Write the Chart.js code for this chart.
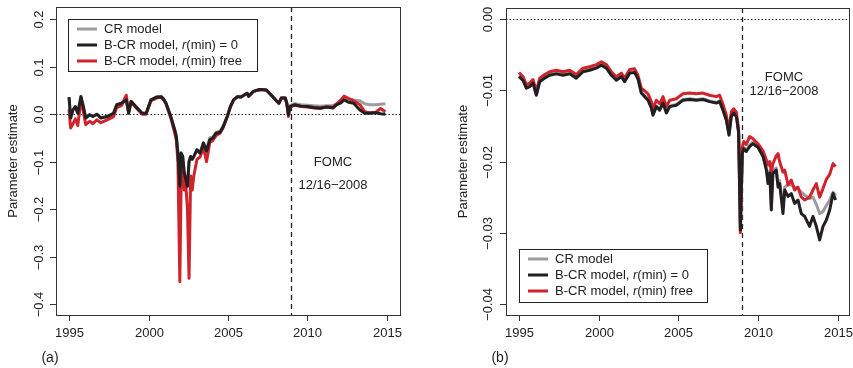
<!DOCTYPE html>
<html>
<head>
<meta charset="utf-8">
<script src="https://cdn.jsdelivr.net/npm/chart.js@4.4.0/dist/chart.umd.min.js"></script>
<style>
html, body { margin: 0; padding: 0; background: #fff; }
.panel { position: absolute; top: 0; height: 368px; }
</style>
</head>
<body>
<div class="panel" style="left:0;width:426px"><canvas id="chartA"></canvas></div>
<div class="panel" style="left:426px;width:427px"><canvas id="chartB"></canvas></div>
<script>
// shared
var seriesNames = ['CR model', 'B-CR model, *r*(min) = 0', 'B-CR model, *r*(min) free'];
var xTicks = [1995, 2000, 2005, 2010, 2015];
var fomcDate = 2008.96;
var fomcText = ['FOMC', '12/16\u22122008'];

// panel (a)
var yearsA = [1995.00, 1995.10, 1995.25, 1995.40, 1995.55, 1995.75, 1995.90, 1996.05, 1996.30, 1996.50,
    1996.75, 1997.00, 1997.40, 1997.80, 1998.00, 1998.30, 1998.60, 1998.75, 1998.90, 1999.20,
    1999.60, 1999.85, 2000.15, 2000.50, 2000.80, 2000.95, 2001.10, 2001.40, 2001.65, 2001.75,
    2001.85, 2001.97, 2002.05, 2002.15, 2002.25, 2002.35, 2002.45, 2002.55, 2002.65, 2002.75,
    2002.85, 2003.05, 2003.25, 2003.45, 2003.65, 2003.85, 2004.05, 2004.25, 2004.50, 2004.70,
    2004.95, 2005.15, 2005.35, 2005.60, 2005.80, 2006.00, 2006.20, 2006.30, 2006.60, 2007.00,
    2007.40, 2007.70, 2008.00, 2008.20, 2008.35, 2008.60, 2008.70, 2008.80, 2008.90, 2009.20,
    2009.60, 2010.00, 2010.40, 2010.80, 2011.20, 2011.60, 2011.85, 2012.10, 2012.30, 2012.60,
    2012.90, 2013.30, 2013.60, 2013.90, 2014.30, 2014.60, 2014.90];
var crA = [0.036, -0.008, 0.009, 0.016, 0.002, 0.037, 0.016, -0.008, -0.001, -0.005,
    0.000, -0.008, -0.005, 0.002, 0.020, 0.023, 0.030, 0.002, 0.027, 0.016,
    0.002, 0.002, 0.030, 0.036, 0.037, 0.032, 0.023, -0.005, -0.033, -0.047,
    -0.082, -0.150, -0.082, -0.089, -0.124, -0.138, -0.150, -0.100, -0.089, -0.095,
    -0.089, -0.075, -0.080, -0.060, -0.075, -0.050, -0.048, -0.038, -0.036, -0.025,
    -0.005, 0.016, 0.030, 0.037, 0.036, 0.040, 0.044, 0.038, 0.048, 0.052,
    0.051, 0.041, 0.030, 0.023, 0.034, 0.034, 0.023, 0.000, 0.018, 0.022,
    0.020, 0.019, 0.018, 0.017, 0.018, 0.018, 0.022, 0.028, 0.033, 0.032,
    0.030, 0.028, 0.022, 0.020, 0.020, 0.021, 0.022];
var bcrZeroA = [0.036, -0.008, 0.009, 0.016, 0.002, 0.037, 0.016, -0.008, -0.001, -0.005,
    0.000, -0.008, -0.005, 0.002, 0.020, 0.023, 0.030, 0.002, 0.027, 0.016,
    0.002, 0.002, 0.030, 0.036, 0.037, 0.032, 0.023, -0.005, -0.033, -0.047,
    -0.082, -0.152, -0.082, -0.089, -0.124, -0.138, -0.152, -0.100, -0.089, -0.095,
    -0.089, -0.075, -0.082, -0.061, -0.078, -0.054, -0.050, -0.040, -0.038, -0.026,
    -0.005, 0.016, 0.030, 0.037, 0.036, 0.040, 0.044, 0.038, 0.048, 0.052,
    0.051, 0.041, 0.030, 0.023, 0.034, 0.034, 0.023, -0.001, 0.016, 0.020,
    0.017, 0.016, 0.014, 0.013, 0.015, 0.013, 0.020, 0.024, 0.030, 0.025,
    0.023, 0.009, 0.002, 0.002, 0.003, 0.001, 0.000];
var bcrFreeA = [0.010, -0.029, -0.020, -0.010, -0.024, 0.030, 0.005, -0.022, -0.015, -0.020,
    -0.012, -0.018, -0.012, -0.005, 0.014, 0.018, 0.040, 0.005, 0.025, 0.014,
    0.000, 0.000, 0.028, 0.034, 0.036, 0.030, 0.022, -0.008, -0.040, -0.055,
    -0.100, -0.353, -0.150, -0.110, -0.160, -0.150, -0.200, -0.346, -0.130, -0.160,
    -0.130, -0.095, -0.090, -0.070, -0.100, -0.060, -0.055, -0.045, -0.040, -0.028,
    -0.006, 0.015, 0.030, 0.037, 0.036, 0.040, 0.044, 0.038, 0.048, 0.052,
    0.051, 0.041, 0.030, 0.023, 0.034, 0.034, 0.022, -0.005, 0.015, 0.019,
    0.016, 0.015, 0.013, 0.012, 0.015, 0.015, 0.022, 0.030, 0.038, 0.033,
    0.028, 0.020, 0.005, 0.003, 0.004, 0.012, 0.005];
var yTicksA = [-0.4, -0.3, -0.2, -0.1, 0.0, 0.1, 0.2];
var yLabelsA = ['\u22120.4', '\u22120.3', '\u22120.2', '\u22120.1', '0.0', '0.1', '0.2'];

// panel (b)
var yearsB = [1995.00, 1995.25, 1995.46, 1995.67, 1995.88, 1996.09, 1996.30, 1996.61, 1996.92, 1997.34,
    1997.76, 1998.18, 1998.59, 1999.01, 1999.43, 1999.85, 2000.16, 2000.48, 2000.79, 2001.10,
    2001.42, 2001.62, 2001.94, 2002.25, 2002.46, 2002.67, 2002.88, 2003.09, 2003.30, 2003.40,
    2003.61, 2003.82, 2004.03, 2004.24, 2004.45, 2004.86, 2005.28, 2005.70, 2006.12, 2006.54,
    2006.95, 2007.37, 2007.58, 2007.79, 2008.00, 2008.17, 2008.31, 2008.46, 2008.63, 2008.77,
    2008.88, 2009.00, 2009.09, 2009.25, 2009.46, 2009.67, 2009.98, 2010.30, 2010.51, 2010.61,
    2010.72, 2010.82, 2010.92, 2011.13, 2011.24, 2011.34, 2011.55, 2011.66, 2011.87, 2012.07,
    2012.28, 2012.49, 2012.70, 2012.91, 2013.22, 2013.43, 2013.64, 2013.85, 2014.06, 2014.27,
    2014.48, 2014.69, 2014.85];
var crB = [-0.0080, -0.0085, -0.0096, -0.0094, -0.0089, -0.0106, -0.0087, -0.0082, -0.0078, -0.0076,
    -0.0078, -0.0076, -0.0082, -0.0073, -0.0071, -0.0068, -0.0064, -0.0068, -0.0078, -0.0085,
    -0.0080, -0.0087, -0.0075, -0.0074, -0.0083, -0.0103, -0.0108, -0.0113, -0.0124, -0.0134,
    -0.0122, -0.0127, -0.0117, -0.0131, -0.0122, -0.0120, -0.0113, -0.0112, -0.0113, -0.0112,
    -0.0115, -0.0117, -0.0115, -0.0127, -0.0141, -0.0162, -0.0136, -0.0131, -0.0136, -0.0159,
    -0.0296, -0.0187, -0.0180, -0.0184, -0.0177, -0.0173, -0.0178, -0.0191, -0.0209, -0.0226,
    -0.0213, -0.0262, -0.0214, -0.0209, -0.0232, -0.0227, -0.0265, -0.0236, -0.0232, -0.0233,
    -0.0236, -0.0238, -0.0243, -0.0247, -0.0252, -0.0250, -0.0260, -0.0273, -0.0270, -0.0262,
    -0.0254, -0.0243, -0.0248];
var bcrZeroB = [-0.0081, -0.0086, -0.0097, -0.0095, -0.0090, -0.0107, -0.0088, -0.0083, -0.0079, -0.0077,
    -0.0079, -0.0077, -0.0083, -0.0074, -0.0072, -0.0069, -0.0065, -0.0069, -0.0079, -0.0086,
    -0.0081, -0.0088, -0.0076, -0.0075, -0.0084, -0.0104, -0.0109, -0.0114, -0.0125, -0.0135,
    -0.0123, -0.0128, -0.0118, -0.0132, -0.0123, -0.0121, -0.0114, -0.0113, -0.0114, -0.0113,
    -0.0116, -0.0118, -0.0116, -0.0128, -0.0142, -0.0163, -0.0137, -0.0132, -0.0137, -0.0160,
    -0.0296, -0.0189, -0.0182, -0.0186, -0.0179, -0.0175, -0.0180, -0.0193, -0.0212, -0.0231,
    -0.0216, -0.0268, -0.0217, -0.0212, -0.0236, -0.0231, -0.0273, -0.0240, -0.0249, -0.0245,
    -0.0259, -0.0254, -0.0273, -0.0277, -0.0291, -0.0277, -0.0291, -0.0310, -0.0291, -0.0282,
    -0.0268, -0.0245, -0.0254];
var bcrFreeB = [-0.0075, -0.0081, -0.0092, -0.0090, -0.0085, -0.0101, -0.0083, -0.0078, -0.0074, -0.0072,
    -0.0074, -0.0072, -0.0078, -0.0069, -0.0067, -0.0064, -0.0060, -0.0064, -0.0074, -0.0081,
    -0.0076, -0.0083, -0.0071, -0.0070, -0.0079, -0.0097, -0.0101, -0.0105, -0.0116, -0.0126,
    -0.0114, -0.0119, -0.0109, -0.0123, -0.0114, -0.0112, -0.0105, -0.0104, -0.0105, -0.0104,
    -0.0107, -0.0109, -0.0107, -0.0120, -0.0135, -0.0157, -0.0130, -0.0126, -0.0131, -0.0155,
    -0.0300, -0.0180, -0.0172, -0.0176, -0.0165, -0.0168, -0.0175, -0.0185, -0.0198, -0.0205,
    -0.0200, -0.0215, -0.0203, -0.0192, -0.0189, -0.0200, -0.0215, -0.0212, -0.0233, -0.0226,
    -0.0240, -0.0236, -0.0250, -0.0254, -0.0250, -0.0240, -0.0231, -0.0250, -0.0238, -0.0225,
    -0.0218, -0.0203, -0.0207];
var yTicksB = [-0.04, -0.03, -0.02, -0.01, 0.00];
var yLabelsB = ['\u22120.04', '\u22120.03', '\u22120.02', '\u22120.01', '0.00'];

var colors = ['#9d9d9f', '#231f20', '#d1232b'];
var FONT = '"Liberation Sans", Arial, sans-serif';

function toPoints(xs, ys) {
    return xs.map(function(x, i) { return {x: x, y: ys[i]}; });
}

// draws label with *italic* parts
function richText(ctx, str, x, y) {
    var parts = str.split('*');
    parts.forEach(function(p, i) {
        ctx.font = (i % 2 ? 'italic ' : '') + '13px ' + FONT;
        ctx.fillText(p, x, y);
        x += ctx.measureText(p).width;
    });
}

function decor(opt) {
    return {
        id: 'decor',
        beforeDatasetsDraw: function(chart) {
            var ctx = chart.ctx, a = chart.chartArea, xs = chart.scales.x, ys = chart.scales.y;
            ctx.save();
            ctx.strokeStyle = '#222';
            ctx.lineWidth = 1;
            ctx.setLineDash([1.5, 2]);
            var y0 = Math.round(ys.getPixelForValue(0)) + 0.5;
            ctx.beginPath(); ctx.moveTo(a.left, y0); ctx.lineTo(a.right, y0); ctx.stroke();
            ctx.setLineDash([5, 4]);
            ctx.lineWidth = 1.3;
            var xf = Math.round(xs.getPixelForValue(fomcDate)) + 0.5;
            ctx.beginPath(); ctx.moveTo(xf, a.top); ctx.lineTo(xf, a.bottom); ctx.stroke();
            ctx.restore();
        },
        afterDraw: function(chart) {
            var ctx = chart.ctx, a = chart.chartArea, xs = chart.scales.x, ys = chart.scales.y;
            ctx.save();
            ctx.strokeStyle = '#333';
            ctx.lineWidth = 1;
            ctx.strokeRect(Math.round(a.left) + 0.5, Math.round(a.top) + 0.5,
                Math.round(a.right - a.left), Math.round(a.bottom - a.top));
            ctx.fillStyle = '#222';
            ctx.font = '13px ' + FONT;
            // x axis
            ctx.textAlign = 'center';
            ctx.textBaseline = 'middle';
            ctx.beginPath();
            xTicks.forEach(function(t) {
                var px = Math.round(xs.getPixelForValue(t)) + 0.5;
                ctx.moveTo(px, a.bottom); ctx.lineTo(px, a.bottom + 6);
                ctx.fillText(String(t), px, 333);
            });
            // y axis
            opt.yTicks.forEach(function(t, i) {
                var py = Math.round(ys.getPixelForValue(t)) + 0.5;
                ctx.moveTo(a.left, py); ctx.lineTo(a.left - 6, py);
                ctx.save();
                ctx.translate(opt.yLabelX, py);
                ctx.rotate(-Math.PI / 2);
                ctx.fillText(opt.yLabels[i], 0, 0);
                ctx.restore();
            });
            ctx.stroke();
            ctx.save();
            ctx.translate(opt.titleX, (a.top + a.bottom) / 2);
            ctx.rotate(-Math.PI / 2);
            ctx.fillText('Parameter estimate', 0, 0);
            ctx.restore();
            // panel label
            ctx.font = '14px ' + FONT;
            ctx.fillText(opt.panel, opt.panelX, 358);
            // FOMC note
            ctx.font = '13px ' + FONT;
            ctx.fillText(fomcText[0], opt.fomcX, opt.fomcY[0]);
            ctx.fillText(fomcText[1], opt.fomcX, opt.fomcY[1]);
            // legend
            var L = opt.legend;
            ctx.fillStyle = '#fff';
            ctx.fillRect(L.x, L.y, L.w, L.h);
            ctx.strokeStyle = '#222';
            ctx.strokeRect(L.x + 0.5, L.y + 0.5, L.w, L.h);
            ctx.textAlign = 'left';
            [10, 26, 42].forEach(function(dy, i) {
                ctx.strokeStyle = colors[i];
                ctx.lineWidth = 3;
                ctx.beginPath();
                ctx.moveTo(L.x + 9, L.y + dy); ctx.lineTo(L.x + 29, L.y + dy);
                ctx.stroke();
                ctx.fillStyle = '#222';
                richText(ctx, seriesNames[i], L.x + 36, L.y + dy);
            });
            ctx.restore();
        }
    };
}

function makeChart(id, years, cr, b0, bf, opt) {
    var ds = [
        {data: toPoints(years, b0), borderColor: colors[1]},
        {data: toPoints(years, bf), borderColor: colors[2]},
        {data: toPoints(years, cr), borderColor: colors[0]}
    ].map(function(d) {
        d.borderWidth = 3;
        d.pointRadius = 0;
        d.tension = 0;
        d.fill = false;
        d.borderJoinStyle = 'round';
        return d;
    });
    return new Chart(document.getElementById(id).getContext('2d'), {
        type: 'line',
        data: {datasets: ds},
        options: {
            responsive: true,
            maintainAspectRatio: false,
            animation: false,
            layout: {padding: opt.padding},
            plugins: {legend: {display: false}, tooltip: {enabled: false}},
            scales: {
                x: {type: 'linear', display: false, min: opt.xMin, max: opt.xMax},
                y: {type: 'linear', display: false, min: opt.yMin, max: opt.yMax}
            }
        },
        plugins: [decor(opt)]
    });
}

makeChart('chartA', yearsA, crA, bcrZeroA, bcrFreeA, {
    padding: {left: 56, right: 26, top: 7, bottom: 53},
    xMin: 1994.18, xMax: 2015.82, yMin: -0.4232, yMax: 0.2259,
    yTicks: yTicksA, yLabels: yLabelsA, yLabelX: 39, titleX: 13,
    panel: '(a)', panelX: 50,
    fomcX: 333, fomcY: [162, 185],
    legend: {x: 68, y: 19, w: 189, h: 52}
});

makeChart('chartB', yearsB, crB, bcrZeroB, bcrFreeB, {
    padding: {left: 80, right: 4, top: 8, bottom: 53},
    xMin: 1994.185, xMax: 2015.69, yMin: -0.04154, yMax: 0.00154,
    yTicks: yTicksB, yLabels: yLabelsB, yLabelX: 62, titleX: 37,
    panel: '(b)', panelX: 74,
    fomcX: 358, fomcY: [77, 91],
    legend: {x: 93, y: 249, w: 188, h: 53}
});
</script>
</body>
</html>
